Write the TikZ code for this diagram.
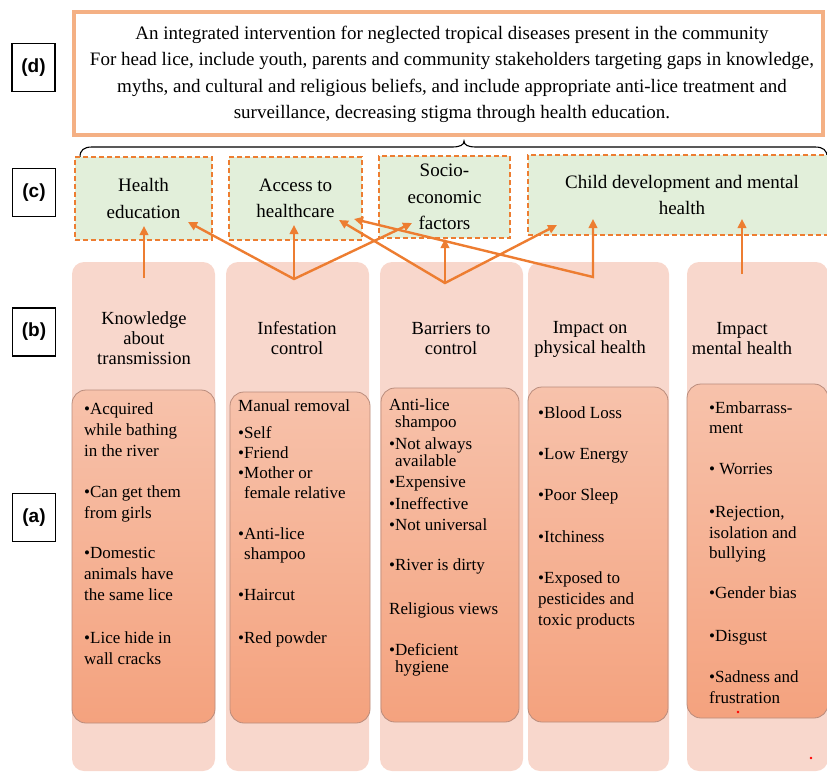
\documentclass[tikz,border=0pt]{standalone}
\usepackage{fontspec}
\setmainfont{Liberation Serif}
\newfontfamily\labfont{Liberation Sans}
\usetikzlibrary{arrows.meta,calc}
\definecolor{orng}{HTML}{ED7D31}
\definecolor{peach}{HTML}{F4B084}
\definecolor{lgreen}{HTML}{E2EFDA}
\definecolor{colbg}{HTML}{F8D7CC}
\definecolor{boxtop}{HTML}{F7C2AB}
\definecolor{boxbot}{HTML}{F4A27E}
\definecolor{boxedge}{HTML}{B98C7C}
\begin{document}
\begin{tikzpicture}[x=1pt,y=-1pt,
  lab/.style={draw=black,line width=1.3pt,fill=white,minimum width=43pt,minimum height=48pt,inner sep=0pt,font=\labfont\bfseries\fontsize{19}{22}\selectfont},
  topbox/.style={draw=peach,line width=4pt,fill=white,minimum width=749pt,minimum height=123pt,inner sep=0pt},
  cbox/.style={draw=orng,line width=1.4pt,dash pattern=on 5pt off 3pt,fill=lgreen,inner sep=0pt,align=center,font=\fontsize{19}{26.5}\selectfont},
  colbox/.style={fill=colbg,rounded corners=12pt,minimum height=509pt,inner sep=0pt},
  inbox/.style={draw=boxedge,line width=0.8pt,top color=boxtop,bottom color=boxbot,rounded corners=14pt,inner sep=0pt},
  htext/.style={align=center,inner sep=0pt,font=\fontsize{18.5}{20}\selectfont},
  btext/.style={align=left,anchor=north west,inner sep=0pt},
  arr/.style={draw=orng,line width=2.4pt,-{Triangle[length=9pt,width=8.5pt]}},
  darr/.style={draw=orng,line width=2.4pt,miter limit=4,{Triangle[length=9pt,width=8.5pt]}-{Triangle[length=9pt,width=8.5pt]}},
]
\useasboundingbox (0,0) rectangle (827,772);

% labels
\node[lab] (ld) at (33.5,67.5) {(d)};
\node[lab] (lc) at (34,192.5) {(c)};
\node[lab] (lb) at (34,332) {(b)};
\node[lab] (la) at (34,517.5) {(a)};

% top box
\node[topbox] (top) at (448.5,73.5) {};
\node[align=center,inner sep=0pt,font=\fontsize{19}{26.3}\selectfont] (toptxt) at (452,74.5)
 {An integrated intervention for neglected tropical diseases present in the community\\
  For head lice, include youth, parents and community stakeholders targeting gaps in knowledge,\\
  myths, and cultural and religious beliefs, and include appropriate anti-lice treatment and\\
  surveillance, decreasing stigma through health education.};

% brace
\draw[line width=1.1pt] (80,157) .. controls (80,150) and (84,147) .. (92,147) -- (452,147)
  .. controls (460,147) and (464,145) .. (464,141) .. controls (464,145) and (468,147) .. (476,147)
  -- (815,147) .. controls (823,147) and (827,150) .. (827,157);

% (c) boxes
\node[cbox,minimum width=137pt,minimum height=83pt] (c1) at (143.5,198.5) {Health\\education};
\node[cbox,minimum width=133pt,minimum height=83pt] (c2) at (295.5,198.5) {Access to\\healthcare};
\node[cbox,minimum width=131pt,minimum height=82pt] (c3) at (444.5,197) {Socio-\\economic\\factors};
\node[cbox,minimum width=308pt,minimum height=80pt] (c4) at (682,195) {Child development and mental\\health};

% (b) columns
\node[colbox,minimum width=143pt] (b1) at (143.5,516.5) {};
\node[colbox,minimum width=143pt] (b2) at (297.5,516.5) {};
\node[colbox,minimum width=143pt] (b3) at (451.5,516.5) {};
\node[colbox,minimum width=141pt] (b4) at (598.5,516.5) {};
\node[colbox,minimum width=141pt] (b5) at (757.5,516.5) {};

\node[htext] (h1) at (144,338.5) {Knowledge\\about\\transmission};
\node[htext] (h2) at (297,338) {Infestation\\control};
\node[htext] (h3) at (451,338.5) {Barriers to\\control};
\node[htext] (h4) at (590,339.5) {Impact on\\physical health};
\node[htext] (h5) at (742,339) {Impact\\mental health};

% (a) boxes
\node[inbox,minimum width=143pt,minimum height=333pt] (a1) at (143.5,556.5) {};
\node[inbox,minimum width=140pt,minimum height=331pt] (a2) at (300,557.5) {};
\node[inbox,minimum width=138pt,minimum height=334pt] (a3) at (450,555) {};
\node[inbox,minimum width=140pt,minimum height=335pt] (a4) at (598,554.5) {};
\node[inbox,minimum width=141pt,minimum height=334pt] (a5) at (757.5,551) {};

\node[btext,font=\fontsize{17}{21}\selectfont] (t1) at (84,402)
 {•Acquired\\while bathing\\in the river\\[20pt]•Can get them\\from girls\\[19pt]•Domestic\\animals have\\the same lice\\[22pt]•Lice hide in\\wall cracks};
\node[btext,font=\fontsize{17}{20}\selectfont] (t2) at (238,399)
 {Manual removal\\[7pt]•Self\\•Friend\\•Mother or\\\phantom{•}female relative\\[21pt]•Anti-lice\\\phantom{•}shampoo\\[21pt]•Haircut\\[23pt]•Red powder};
\node[btext,font=\fontsize{17}{17}\selectfont] (t3) at (389,398)
 {Anti-lice\\\phantom{•}shampoo\\[5pt]•Not always\\\phantom{•}available\\[4pt]•Expensive\\[5pt]•Ineffective\\[4pt]•Not universal\\[23pt]•River is dirty\\[27pt]Religious views\\[24pt]•Deficient\\\phantom{•}hygiene};
\node[btext,font=\fontsize{17}{21}\selectfont] (t4) at (538,406)
 {•Blood Loss\\[20pt]•Low Energy\\[20pt]•Poor Sleep\\[21pt]•Itchiness\\[20pt]•Exposed to\\pesticides and\\toxic products};
\node[btext,font=\fontsize{17}{20.5}\selectfont] (t5) at (709,401)
 {•Embarrass-\\ment\\[20.5pt]• Worries\\[22.5pt]•Rejection,\\isolation and\\bullying\\[19.5pt]•Gender bias\\[22.5pt]•Disgust\\[20.5pt]•Sadness and\\frustration};

% arrow points
\coordinate (p1) at (144,278);
\coordinate (p2) at (294,279);
\coordinate (p3) at (445,283);
\coordinate (p4) at (593,277);
\coordinate (p5) at (742,274);
\coordinate (e11) at (144,226);
\coordinate (e21) at (188,222);
\coordinate (e22) at (294,225);
\coordinate (e23) at (412,223);
\coordinate (e32) at (339,220);
\coordinate (e33) at (445,239);
\coordinate (e34) at (557,225);
\coordinate (e42) at (354,219);
\coordinate (e44) at (593,219);
\coordinate (e54) at (742,219);

\draw[arr] (p1) -- (e11);
\draw[darr] (e21) -- (p2) -- (e23);
\draw[arr] (p2) -- (e22);
\draw[darr] (e32) -- (p3) -- (e34);
\draw[arr] (p3) -- (e33);
\draw[darr] (e42) -- (p4) -- (e44);
\draw[arr] (p5) -- (e54);

% small red dots
\fill[red] (738,712) circle (1.3pt);
\fill[red] (811,758) circle (1.3pt);
\end{tikzpicture}
\end{document}
